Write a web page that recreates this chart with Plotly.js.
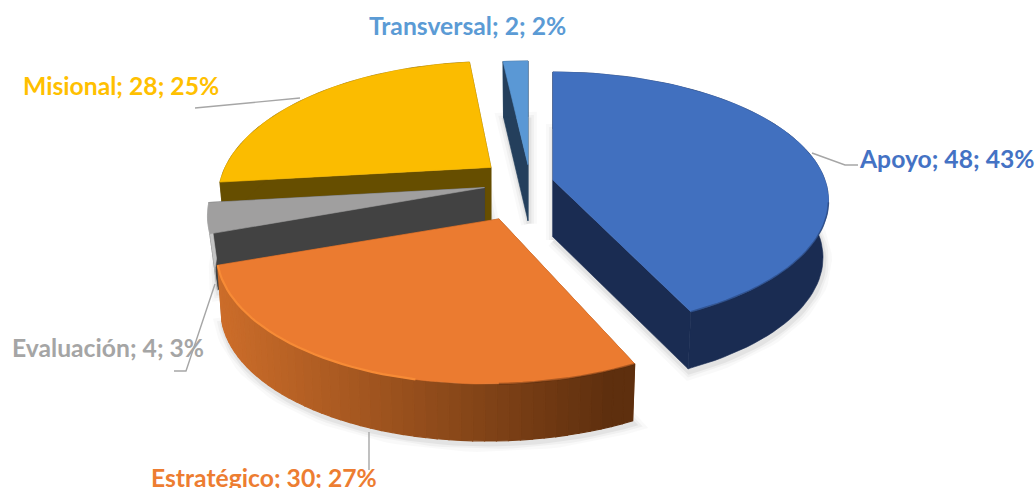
<!DOCTYPE html>
<html>
<head>
<meta charset="utf-8">
<script src="https://cdn.plot.ly/plotly-3.0.1.min.js"></script>
<style>html,body{margin:0;padding:0;background:#fff}#chart{width:1035px;height:488px}</style>
</head>
<body>
<div id="chart"></div>
<script>
// ---- data ----
const categories = ["Apoyo", "Estratégico", "Evaluación", "Misional", "Transversal"];
const values = [48, 30, 4, 28, 2];
const shownPercents = [43, 27, 3, 25, 2];

// ---- styles ----
const topColors  = ["#4170BF", "#EB7B30", "#A09F9F", "#FBBC00", "#5A98D5"];
const wallColors = ["#1A2C52", "#8A4A1C", "#424242", "#664E00", "#243F5C"];
const sideColors = ["#1A2C52", null, "#C4C4C4", "#664E00", "#243F5C"];
const labelColors = ["#4472C4", "#ED7D31", "#A5A5A5", "#FFC000", "#5B9BD5"];
const drawOrder = [3, 2, 4, 0, 1];
const labelX = [947, 264, 107.5, 120.5, 467.5];
const labelY = [158, 477, 347, 85, 25];
const leaders = [
  [[812, 153], [845, 165], [858, 165]],
  [[369, 432], [369, 470]],
  [[215, 284], [186, 371], [174, 371]],
  [[300, 98], [208, 107], [195, 108]],
  null
];

// ---- view of the tilted disc, slice by slice (perspective differs with position) ----
const cx = 530, cy = 182.5, baseRx = 269, baseRy = 130.6, basePersp = 0.209;
const explode = [0.088, 0.285, 0.172, 0.19, 0.14];
const viewPersp = [0.16, 0.209, 0.209, 0.209, 0.209];
const viewRy = [125.3, 130.6, 130.6, 128, 125.5];
const viewRx = [272, 274, 271, 266, 269];
const viewShear = [0, -0.074, 0, -0.03, 0];
const depths = [57, 57, 56, 56, 56];
const bottomScales = [0.98, 0.985, 0.972, 0.98, 0.98];

const rad = d => d * Math.PI / 180;
const total = values.reduce((a, b) => a + b, 0);
let acc = 0;
const slices = values.map((v, i) => {
  const a0 = acc / total * 360; acc += v; const a1 = acc / total * 360;
  const m = rad((a0 + a1) / 2);
  const ox = explode[i] * Math.sin(m), oy = explode[i] * Math.cos(m);
  const w = 1 + basePersp * oy;
  return { i, a0, a1, ax: cx + baseRx * ox / w, ay: cy - baseRy * oy / w };
});
function rimPoint(s, deg, low) {
  const X = Math.sin(rad(deg)), Y = Math.cos(rad(deg)), w = 1 + viewPersp[s.i] * Y;
  const dy = -viewRy[s.i] * Y / w;
  let dx = viewRx[s.i] * X / w + viewShear[s.i] * dy;
  if (low) dx *= bottomScales[s.i];
  return [s.ax + dx, s.ay + dy + (low ? depths[s.i] : 0)];
}
function apex(s, low) { return [s.ax, s.ay + (low ? depths[s.i] : 0)]; }
function arc(s, d0, d1, low) {
  const n = Math.max(2, Math.ceil(Math.abs(d1 - d0) / 2)), pts = [];
  for (let k = 0; k <= n; k++) pts.push(rimPoint(s, d0 + (d1 - d0) * k / n, low));
  return pts;
}
function poly(pts, color, lw) {
  const closed = pts.concat([pts[0]]);
  return { type: "scatter", mode: "lines", x: closed.map(p => p[0]), y: closed.map(p => p[1]),
    fill: "toself", fillcolor: color, line: { color, width: lw || 0.6 }, hoverinfo: "skip", showlegend: false };
}
function stroke(pts, color, width, closeIt) {
  const p = closeIt ? pts.concat([pts[0]]) : pts;
  return { type: "scatter", mode: "lines", x: p.map(q => q[0]), y: p.map(q => q[1]),
    line: { color, width }, hoverinfo: "skip", showlegend: false };
}
function mix(c1, c2, t) {
  const a = [0, 2, 4].map(j => parseInt(c1.substr(1 + j, 2), 16));
  const b = [0, 2, 4].map(j => parseInt(c2.substr(1 + j, 2), 16));
  return "rgb(" + a.map((v, j) => Math.round(v + (b[j] - v) * t)).join(",") + ")";
}

const traces = [];
// soft drop shadows under the raised slices
[[16, 0.025], [10, 0.035], [5, 0.05]].forEach(([w, al]) => {
  slices.forEach(s => {
    const outline = [apex(s, true)].concat(arc(s, s.a0, s.a1, true)).map(p => [p[0] + 1, p[1] + 3]);
    traces.push(stroke(outline, "rgba(0,0,0," + al + ")", w, true));
  });
});

drawOrder.forEach(idx => {
  const s = slices[idx];
  const apT = apex(s, false), apB = apex(s, true);
  const quad = d => [rimPoint(s, d, false), rimPoint(s, d, true), apB, apT];
  traces.push(poly(quad(s.a1), wallColors[idx]));
  traces.push(poly(quad(s.a0), wallColors[idx]));
  if (sideColors[idx]) {
    const up = arc(s, s.a0, s.a1, false), lo = arc(s, s.a0, s.a1, true).reverse();
    traces.push(poly(up.concat(lo), sideColors[idx]));
  } else {
    // shaded rounded side: darker towards the right, linear in x
    const n = 48;
    const xL = rimPoint(s, s.a1, false)[0], xR = rimPoint(s, s.a0, false)[0];
    for (let k = 0; k < n; k++) {
      const d0 = s.a0 + (s.a1 - s.a0) * k / n, d1 = s.a0 + (s.a1 - s.a0) * (k + 1) / n;
      const xm = rimPoint(s, (d0 + d1) / 2, false)[0];
      const t = Math.max(0, Math.min(1, (xm - xL) / (xR - xL - 25)));
      traces.push(poly(arc(s, d0, d1, false).concat(arc(s, d0, d1, true).reverse()), mix("#CC6D2A", "#5E2F0E", t), 1.2));
    }
  }
  traces.push(poly([apT].concat(arc(s, s.a0, s.a1, false)), topColors[idx]));
  if (idx === 1) {
    traces.push(stroke(arc(s, s.a0, 178, false), "rgba(60,28,8,0.35)", 2));
    traces.push(stroke(arc(s, 192, s.a1, false), "#F78B36", 2.2));
  }
  if (idx === 0) traces.push(stroke(arc(s, 100, s.a1, false), "rgba(32,60,112,0.55)", 1.6));
});

leaders.forEach(l => { if (l) traces.push(stroke(l, "#A6A6A6", 1.4)); });

const annotations = categories.map((c, i) => ({
  x: labelX[i], y: labelY[i], xref: "x", yref: "y", showarrow: false,
  text: "<b>" + c + "; " + values[i] + "; " + shownPercents[i] + "%</b>",
  font: { family: "Lato, Carlito, sans-serif", size: 24.7, color: labelColors[i] },
  xanchor: "center", yanchor: "middle"
}));

Plotly.newPlot("chart", traces, {
  width: 1035, height: 488,
  margin: { l: 0, r: 0, t: 0, b: 0 },
  paper_bgcolor: "#ffffff", plot_bgcolor: "#ffffff",
  showlegend: false, hovermode: false,
  xaxis: { range: [0, 1035], visible: false, fixedrange: true },
  yaxis: { range: [488, 0], visible: false, fixedrange: true },
  annotations
}, { displayModeBar: false, staticPlot: true });
</script>
</body>
</html>
